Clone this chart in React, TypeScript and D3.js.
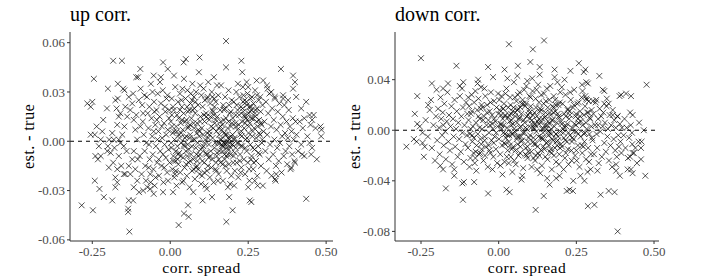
import * as d3 from 'd3';

// [corr. spread, est. - true]
const upOuter: [number, number][] = [
  [-.284,-.039],[-.248,-.042],[-.131,-.055],[-.133,-.036],[-.119,-.036],[-.135,-.041],[-.135,-.043],[-.186,-.036],[-.213,-.034],[-.227,-.029],
  [-.242,-.024],[-.176,-.028],[-.245,.038],[-.183,.049],[-.155,.049],[-.096,.044],[-.109,.039],[-.103,.039],[-.053,.04],[-.023,.048],
  [-.008,.044],[-.03,.039],[.043,.048],[.05,.05],[.094,.051],[.179,.061],[.179,.045],[.228,.049],[.231,.042],[.355,.044],
  [.394,.04],[.40,.036],[.394,.032],[.404,.027],[.436,.024],[.482,.009],[.485,.007],[.466,.008],[.436,-.035],[.027,-.051],
  [.044,-.044],[.059,-.046],[.057,-.039],[.18,-.049],[.2,-.042],[.189,-.034],[.185,-.028],[.255,-.036],[.26,-.037],[.25,-.028],
  [.28,-.027],[.104,-.036],[.134,-.034],[.074,-.031],[.009,-.031],[-.023,-.031],[-.053,-.032],[-.064,-.029],[-.1,-.031],[-.087,-.03],
  [-.149,-.02],[-.144,-.02],[-.17,-.025],[-.176,-.022],[.336,-.023],[.34,-.02],[.388,-.016],[.4,-.013],[.423,-.008],[.447,-.001],
  [.452,-.008],[.484,.003],[.447,.016],[.402,.012],[-.266,.023],[-.25,.024],[-.255,.021],[-.236,.009],[-.255,.004],[-.242,.004],
  [-.223,.001],[-.24,-.009],[-.232,-.011],[-.223,-.009],[-.2,-.003],[-.202,-.006],[-.215,.013],[-.2,.032],[-.168,.035],[-.151,.032],
  [-.147,.031],[-.119,.029],[-.168,.026],[-.176,.025],[-.172,.02],[-.165,.015],[-.17,.01],[-.229,-.003],[-.218,.006],[-.203,.02],
  [.245,.036],[.25,.033],[.277,.037],[.298,.037],[.324,.03],[.335,.027],[.362,.026],[.378,.025],[.31,.034],[.42,.02],[.43,.014],[.455,.013],
];

const upLeftCore: [number, number][] = [
  [-.186,.005],[-.181,.001],[-.191,-.007],[-.183,-.013],[-.165,-.009],[-.16,-.001],[-.154,.004],[-.147,.009],[-.138,.015],[-.128,.019],
  [-.122,.023],[-.117,.013],[-.112,.007],[-.106,.001],[-.117,-.006],[-.122,-.011],[-.133,-.015],[-.14,-.006],[-.149,-.003],[-.157,-.015],
  [-.17,-.017],[-.197,-.016],[-.128,-.02],[-.112,-.017],[-.106,-.024],[-.117,-.028],[-.104,-.011],[-.101,.025],[-.109,.016],[-.133,.027],
  [-.144,.021],[-.16,.017],[-.179,-.004],[-.196,.001],[-.165,.001],
  [-.095,.032],[-.09,.022],[-.088,.012],[-.085,.004],[-.082,-.006],[-.08,-.015],[-.078,-.024],[-.075,.027],[-.072,.017],[-.07,.008],
  [-.068,-.002],[-.066,-.011],[-.064,-.02],[-.062,.035],[-.06,.014],[-.058,.003],[-.056,-.008],[-.054,-.017],[-.052,.024],[-.05,-.027],
  [-.048,.01],[-.046,-.003],[-.044,.019],[-.042,-.013],[-.04,.029],[-.038,.006],[-.036,-.021],[-.034,.015],[-.032,-.006],[-.03,.023],
  [-.028,-.015],[-.026,.002],[-.024,.031],[-.022,-.025],[-.02,.011],[-.018,-.002],[-.016,.018],[-.014,-.01],[-.012,.026],[-.01,-.019],
  [-.008,.007],[-.006,-.005],[-.004,.014],[-.002,-.013],[-.098,-.009],[-.092,-.02],[-.087,.017],[-.083,.028],[-.077,-.001],[-.073,-.028],
  [-.067,.021],[-.063,-.025],[-.057,.03],[-.053,.006],[-.047,-.022],[-.043,.013],[-.037,-.011],[-.033,.036],[-.027,.009],[-.023,-.008],
  [-.017,.021],[-.013,.004],[-.007,-.024],[-.003,.019],[-.096,.009],[-.069,-.016],[-.041,.001],[-.019,-.016],[-.009,.028],[-.051,.018],
];

const upMidCore: [number, number][] = [
  [.002,.012],[.004,-.004],[.005,.026],[.007,-.017],[.008,.005],[.01,-.009],[.011,.019],[.013,-.022],[.014,.001],[.016,.033],
  [.017,-.012],[.019,.009],[.02,-.027],[.022,.016],[.023,-.003],[.025,.024],[.026,-.014],[.028,.004],[.029,-.007],[.031,.029],
  [.032,-.019],[.034,.011],[.035,-.001],[.037,.021],[.038,-.025],[.04,.007],[.041,-.01],[.043,.017],[.044,.038],[.046,-.016],
  [.047,.002],[.049,.026],[.05,-.006],[.052,.013],[.053,-.021],[.055,.031],[.056,-.002],[.058,.009],[.059,-.013],[.061,.019],
  [.062,-.028],[.064,.004],[.065,.023],[.067,-.008],[.068,.014],[.07,-.018],[.071,.035],[.073,.001],[.074,-.011],[.076,.027],
  [.077,.008],[.079,-.023],[.08,.017],[.082,-.004],[.083,.03],[.085,-.015],[.086,.011],[.088,-.001],[.089,.022],[.091,-.009],
  [.092,.042],[.094,-.02],[.095,.006],[.097,.015],[.098,-.005],[.1,.028],
  [.003,-.001],[.009,.021],[.015,-.02],[.021,.006],[.027,.014],[.033,-.009],[.039,.032],[.045,-.003],[.051,-.014],[.057,.018],
  [.063,.01],[.069,-.003],[.075,-.017],[.081,.024],[.087,-.012],[.093,.003],[.099,-.026],[.012,.04],[.024,-.011],[.036,.025],
  [.048,.012],[.06,-.005],[.072,.019],[.084,-.008],[.096,.034],[.018,-.006],[.042,-.024],[.066,.029],[.078,.001],[.09,-.017],
  [.054,.021],[.03,.002],[.006,.009],
  [.101,.008],[.103,-.012],[.104,.021],[.106,-.003],[.107,.032],[.109,-.019],[.11,.012],[.112,.001],[.113,-.027],[.115,.017],
  [.116,-.008],[.118,.026],[.119,.005],[.121,-.015],[.122,.036],[.124,-.002],[.125,.013],[.127,-.022],[.128,.023],[.13,-.006],
  [.131,.009],[.133,.03],[.134,-.011],[.136,.002],[.137,.018],[.139,-.025],[.14,.039],[.142,-.004],[.143,.011],[.145,-.017],
  [.146,.024],[.148,.006],[.149,-.009],[.151,.015],[.152,-.001],[.154,.028],[.155,-.02],[.157,.004],[.158,-.006],[.16,.019],
  [.161,-.013],[.163,.034],[.164,.001],[.166,-.003],[.167,.01],[.169,-.024],[.17,.022],[.172,-.001],[.173,.005],[.175,-.011],
  [.176,.027],[.178,-.002],[.179,.014],[.181,-.018],[.182,0],[.184,.008],[.185,-.005],[.187,.031],[.188,-.014],[.19,-.001],
  [.191,.017],[.193,-.008],[.194,.003],[.196,-.021],[.197,.025],[.199,-.002],
  [.102,-.021],[.108,.016],[.114,-.007],[.12,.027],[.126,.004],[.132,-.016],[.138,.008],[.144,-.001],[.15,.034],[.156,-.011],
  [.162,.012],[.168,-.006],[.174,.02],[.18,-.009],[.186,.002],[.192,-.026],[.198,.011],[.105,.004],[.117,-.029],[.129,.015],
  [.141,.026],[.153,-.024],[.165,.007],[.177,-.015],[.189,.022],[.111,.025],[.123,-.01],[.135,.019],[.147,-.013],[.159,-.001],
  [.171,.013],[.183,-.004],[.195,.009],[.17,-.003],[.18,-.001],[.19,.001],[.2,-.002],[.16,.001],[.176,.004],
];

const upRightCore: [number, number][] = [
  [.201,.014],[.203,-.009],[.204,.024],[.206,.002],[.207,-.018],[.209,.011],[.21,-.004],[.212,.03],[.213,-.013],[.215,.007],
  [.216,.019],[.218,-.022],[.219,-.001],[.221,.016],[.222,.027],[.224,-.008],[.225,.004],[.227,.021],[.228,-.016],[.23,.012],
  [.231,-.003],[.233,.033],[.234,.018],[.236,-.011],[.237,.008],[.239,.025],[.24,-.02],[.242,.001],[.243,.014],[.245,-.006],
  [.246,.022],[.248,.029],[.249,-.013],[.251,.005],[.252,.017],[.254,-.024],[.255,.011],[.257,-.002],[.258,.026],[.26,.019],
  [.261,-.009],[.263,.003],[.264,.014],[.266,-.017],[.267,.023],[.269,.008],[.27,-.005],[.272,.031],[.273,.015],[.275,-.012],
  [.276,.002],[.278,.02],[.279,-.021],[.281,.009],[.282,-.003],[.284,.025],[.285,.013],[.287,-.008],[.288,.004],[.29,.018],
  [.291,-.015],[.293,.01],[.294,-.001],[.296,.022],[.297,-.027],[.299,.006],
  [.205,-.027],[.211,.009],[.217,.035],[.223,-.012],[.229,.003],[.235,.028],[.241,-.004],[.247,.013],[.253,-.017],[.259,.021],
  [.265,.006],[.271,-.024],[.277,.012],[.283,-.007],[.289,.027],[.295,.001],[.232,.02],[.238,.016],[.244,.024],[.256,.018],
  [.262,.027],[.226,-.019],[.268,-.013],[.274,.019],
  [.302,.012],[.305,-.006],[.307,.024],[.309,-.018],[.311,.004],[.314,.017],[.316,-.011],[.318,.029],[.32,-.002],[.323,.009],
  [.325,-.021],[.327,.02],[.33,-.008],[.332,.013],[.334,.001],[.336,.026],[.339,-.015],[.341,.007],[.343,-.004],[.345,.018],
  [.348,-.012],[.35,.023],[.352,-.001],[.354,.01],[.357,-.019],[.359,.003],[.361,.015],[.364,-.009],[.366,.022],[.368,.005],
  [.37,-.006],[.373,.012],[.375,-.014],[.377,.002],[.38,.019],[.382,-.003],[.384,.009],[.386,-.017],[.389,.006],[.391,-.008],
  [.393,.014],[.396,.001],[.398,-.012],[.312,.032],[.338,-.024],[.362,.028],
  [.405,.004],[.41,-.006],[.415,.012],[.42,-.002],[.425,.008],[.43,-.009],[.44,.003],[.45,.01],[.455,-.004],[.46,.016],[.47,-.011],
];

const upDense: [number, number][] = [
  [.012,.006],[.025,-.008],[.038,.013],[.051,.003],[.064,-.012],[.077,.02],[.09,.007],[.103,-.004],[.116,.015],[.129,-.009],
  [.142,.021],[.155,.008],[.168,-.014],[.181,.004],[.194,.018],[.207,-.007],[.22,.01],[.233,.024],[.246,.002],[.259,-.011],
  [.272,.017],[.285,.005],[.018,-.018],[.031,.019],[.044,-.002],[.057,.008],[.07,.025],[.083,-.016],[.096,.012],[.109,-.013],
  [.122,.002],[.135,.027],[.148,-.018],[.161,.009],[.174,-.008],[.187,.012],[.2,.004],[.213,.022],[.226,-.003],[.239,.015],
  [.252,.009],[.265,-.004],[.278,.028],[.291,.011],[.005,.016],[.062,.002],[.118,-.018],[.146,.013],[.173,.019],[.202,-.013],
  [.228,.006],[.254,.021],[.11,-.001],[.085,.005],[.15,-.007],[.165,-.002],[.185,-.008],[.205,.001],[.215,-.001],[.125,.006],
  [.095,-.008],[.055,-.009],[.035,.005],[.24,.011],[.26,.014],[.01,-.012],[.075,.011],[.14,.016],[.195,-.004],[.21,.016],
];

const downOuter: [number, number][] = [
  [-.297,-.013],[-.25,.057],[-.262,.027],[-.262,.005],[-.254,.003],[-.27,.013],[-.273,-.007],[-.264,-.009],[-.245,-.01],[-.238,-.013],
  [-.241,-.021],[-.215,.037],[-.227,.02],[-.2,.032],[-.179,.033],[-.136,.051],[-.125,.035],[-.114,.038],[-.066,.04],[-.034,.05],
  [-.018,.042],[.033,.068],[.019,.048],[.062,.051],[.11,.064],[.146,.071],[.132,.05],[.102,.054],[.18,.048],[.231,.047],
  [.258,.053],[.279,.048],[.274,.046],[.324,.043],[.476,.036],[.41,.029],[.426,.027],[.423,.014],[.431,.012],[.467,0],
  [.429,-.002],[.45,-.009],[.458,-.014],[.44,-.014],[.458,-.023],[.431,-.018],[.423,-.021],[.472,-.036],[.415,-.031],[.431,-.034],
  [.426,-.031],[.39,-.036],[.378,-.032],[.354,-.048],[.373,-.049],[.328,-.051],[.308,-.059],[.287,-.06],[.383,-.08],[.276,-.04],
  [.228,-.047],[.239,-.048],[.219,-.048],[.145,-.052],[.119,-.063],[.035,-.049],[.025,-.047],[-.034,-.05],[-.115,-.055],[-.117,-.042],
  [-.112,-.041],[-.17,-.046],[-.179,-.031],[-.143,-.036],[-.079,-.041],[.164,-.043],[.185,-.038],[.073,-.039],[.282,.025],[.303,.023],
  [.314,.024],[.34,.031],[.335,.032],[.34,.021],[.354,.021],[.282,.038],[.287,.037],[.367,.012],[.383,.011],[.394,.028],[.389,.027],
  [-.235,.008],[-.228,-.005],[-.222,.016],[-.215,-.014],[-.21,.004],[-.205,-.024],[-.202,.011],[-.245,-.002],[-.218,.024],
];

const downLeftCore: [number, number][] = [
  [-.198,-.008],[-.195,.017],[-.192,.002],[-.19,-.019],[-.187,.026],[-.185,.009],[-.182,-.004],[-.18,.014],[-.177,-.012],[-.175,.021],
  [-.172,-.001],[-.17,-.023],[-.167,.007],[-.165,.03],[-.162,-.009],[-.16,.012],[-.157,-.016],[-.155,.003],[-.152,.019],[-.15,-.027],
  [-.147,.009],[-.145,-.005],[-.142,.024],[-.14,-.013],[-.137,.001],[-.135,.015],[-.132,-.021],[-.13,.006],[-.127,-.007],[-.125,.027],
  [-.122,-.017],[-.12,.011],[-.117,-.002],[-.115,.018],[-.112,-.025],[-.11,.004],[-.107,-.011],[-.105,.022],[-.102,-.004],[-.101,.013],
  [-.188,-.028],[-.163,.037],[-.143,-.031],[-.118,.033],[-.178,.004],
  [-.099,-.014],[-.097,.008],[-.095,.019],[-.093,-.003],[-.091,-.022],[-.089,.013],[-.087,.028],[-.085,-.009],[-.083,.003],[-.081,-.018],
  [-.079,.022],[-.077,-.026],[-.075,.031],[-.073,.006],[-.071,-.012],[-.069,.016],[-.067,-.003],[-.065,.025],[-.063,-.019],[-.061,.009],
  [-.059,-.007],[-.057,.034],[-.055,-.015],[-.053,.001],[-.051,.018],[-.049,-.024],[-.047,.011],[-.045,-.005],[-.043,.027],[-.041,-.013],
  [-.039,.004],[-.037,.02],[-.035,-.029],[-.033,.008],[-.031,-.002],[-.029,.015],[-.027,-.018],[-.025,.03],[-.023,-.008],[-.021,.012],
  [-.019,.001],[-.017,-.021],[-.015,.023],[-.013,-.005],[-.011,.007],[-.009,-.015],[-.007,.018],[-.005,-.026],[-.003,.003],[-.001,.013],
  [-.098,.026],[-.094,-.029],[-.09,.001],[-.086,.015],[-.08,-.006],[-.074,-.017],[-.068,.037],[-.062,.002],[-.056,-.011],[-.05,.008],
  [-.044,-.02],[-.038,.014],[-.032,-.012],[-.026,.022],[-.02,-.031],[-.014,.009],[-.008,-.002],[-.002,.029],[-.072,-.032],[-.046,.033],
  [-.016,-.01],[-.058,.017],[-.028,.004],
];

const downMidCore: [number, number][] = [
  [.001,-.007],[.003,.016],[.005,-.019],[.007,.005],[.009,.027],[.011,-.012],[.013,.009],[.015,-.002],[.017,.021],[.019,-.025],
  [.021,.012],[.023,-.006],[.025,.033],[.027,.002],[.029,-.016],[.031,.018],[.033,-.009],[.035,.007],[.037,.026],[.039,-.021],
  [.041,.004],[.043,-.003],[.045,.015],[.047,-.013],[.049,.038],[.051,-.001],[.053,.011],[.055,-.027],[.057,.023],[.059,.006],
  [.061,-.011],[.063,.017],[.065,-.005],[.067,.03],[.069,-.018],[.071,.003],[.073,.013],[.075,-.008],[.077,.024],[.079,-.03],
  [.081,.008],[.083,-.002],[.085,.019],[.087,-.014],[.089,.035],[.091,.001],[.093,-.022],[.095,.012],[.097,-.006],[.099,.027],
  [.002,.024],[.006,-.028],[.01,.001],[.014,.017],[.018,-.01],[.022,.029],[.026,-.021],[.03,.01],[.034,-.004],[.038,.02],
  [.042,-.015],[.046,.005],[.05,-.024],[.054,.014],[.058,-.007],[.062,.028],[.066,.009],[.07,-.013],[.074,.021],[.078,-.002],
  [.082,.032],[.086,-.019],[.09,.011],[.094,-.009],[.098,.016],[.012,-.035],[.028,.041],[.044,-.033],[.06,.043],[.076,-.036],
  [.092,.039],[.008,.012],[.036,-.012],[.052,.026],[.068,.002],[.084,.006],[.096,-.017],[.016,.004],[.04,.013],[.064,-.02],
  [.088,.021],[.032,-.026],[.048,.018],[.072,-.005],[.02,-.003],
  [.101,-.004],[.103,.019],[.105,-.017],[.107,.008],[.109,.031],[.111,-.009],[.113,.002],[.115,.014],[.117,-.024],[.119,.025],
  [.121,-.001],[.123,.011],[.125,-.013],[.127,.036],[.129,.005],[.131,-.02],[.133,.017],[.135,-.006],[.137,.028],[.139,-.028],
  [.141,.009],[.143,-.002],[.145,.021],[.147,-.015],[.149,.004],[.151,.014],[.153,-.01],[.155,.033],[.157,-.023],[.159,.007],
  [.161,-.004],[.163,.024],[.165,-.017],[.167,.012],[.169,.001],[.171,-.031],[.173,.019],[.175,-.008],[.177,.027],[.179,.003],
  [.181,-.014],[.183,.015],[.185,-.025],[.187,.006],[.189,.038],[.191,-.005],[.193,.011],[.195,-.019],[.197,.022],[.199,-.001],
  [.102,.026],[.106,-.029],[.11,.012],[.114,-.011],[.118,.004],[.122,.032],[.126,-.018],[.13,.009],[.134,-.034],[.138,.016],
  [.142,-.007],[.146,.029],[.15,-.021],[.154,.001],[.158,.018],[.162,-.012],[.166,.035],[.17,-.003],[.174,.008],[.178,-.02],
  [.182,.024],[.186,-.009],[.19,.013],[.194,-.027],[.198,.03],[.104,.002],[.112,-.022],[.12,.018],[.128,-.005],[.136,.006],
  [.144,-.013],[.152,.023],[.16,-.001],[.168,-.015],[.176,.014],[.184,-.003],[.192,.02],[.2,-.011],[.108,.041],[.132,.044],
  [.156,-.038],[.18,.042],[.196,-.036],[.116,.005],[.14,.001],[.164,.005],[.188,-.012],[.124,-.031],[.148,.01],[.172,-.007],
];

const downRightCore: [number, number][] = [
  [.201,.007],[.204,-.013],[.206,.021],[.208,-.002],[.211,.013],[.213,-.022],[.215,.028],[.218,.003],[.22,-.009],[.222,.016],
  [.225,-.027],[.227,.009],[.229,-.004],[.232,.024],[.234,-.016],[.236,.002],[.239,.018],[.241,-.007],[.243,.032],[.246,-.02],
  [.248,.011],[.25,-.001],[.253,.021],[.255,-.012],[.257,.006],[.26,-.029],[.262,.015],[.264,-.005],[.267,.026],[.269,-.018],
  [.271,.004],[.274,.012],[.276,-.009],[.278,.019],[.281,-.023],[.283,.001],[.285,.014],[.288,-.014],[.29,.023],[.292,-.003],
  [.295,.009],[.297,-.019],[.299,.016],
  [.203,.034],[.209,-.031],[.216,.011],[.223,-.015],[.23,.03],[.237,-.006],[.244,.005],[.251,-.024],[.258,.022],[.265,.007],
  [.272,-.013],[.279,.027],[.286,-.033],[.293,.01],[.207,.001],[.214,-.008],[.221,.005],[.228,.015],[.235,-.024],[.242,.02],
  [.249,.013],[.256,-.003],[.263,-.036],[.27,.031],[.277,-.002],[.284,.024],[.291,-.025],[.298,.003],[.212,.04],[.24,-.04],
  [.268,.036],[.296,-.031],
  [.302,-.008],[.305,.013],[.307,-.019],[.31,.004],[.312,.022],[.315,-.003],[.317,-.014],[.32,.009],[.322,-.026],[.325,.017],
  [.327,-.001],[.33,.011],[.332,-.021],[.335,.003],[.337,.014],[.34,-.01],[.342,.006],[.345,-.017],[.347,.019],[.35,-.005],
  [.352,.001],[.355,-.024],[.357,.012],[.36,-.012],[.362,.004],[.365,-.029],[.367,.016],[.37,-.007],[.372,.008],[.375,-.016],
  [.377,.002],[.38,-.021],[.382,.011],[.385,-.004],[.387,-.013],[.39,.005],[.392,-.009],[.395,-.018],[.397,.002],[.318,-.032],
  [.348,.025],[.378,-.027],
  [.402,-.004],[.405,.009],[.408,-.014],[.412,.002],[.416,-.022],[.42,-.006],[.425,.004],[.43,-.011],[.435,-.018],[.445,-.026],
  [.452,.006],[.46,-.009],
];

const downDense: [number, number][] = [
  [.008,.004],[.021,-.011],[.034,.012],[.047,-.003],[.06,.016],[.073,-.009],[.086,.002],[.099,.014],[.112,-.006],[.125,.007],
  [.138,-.016],[.151,.011],[.164,-.002],[.177,.018],[.19,-.008],[.203,.005],[.216,-.018],[.229,.012],[.242,-.001],[.255,.009],
  [.268,-.012],[.281,.006],[.015,.017],[.028,-.004],[.041,.008],[.054,-.016],[.067,.01],[.08,.021],[.093,-.013],[.106,.005],
  [.119,-.011],[.132,.015],[.145,.001],[.158,-.009],[.171,.008],[.184,.02],[.197,-.014],[.21,.003],[.223,.017],[.236,-.009],
  [.249,.004],[.262,.011],[.275,-.003],[.288,.014],[-.02,.005],[-.045,-.008],[-.065,.011],[-.085,-.004],[.05,.001],[.09,-.02],
  [.13,.022],[.17,-.018],[.21,-.006],[.25,-.016],[.115,.001],[.155,.004],[.185,-.003],[.14,-.006],[.1,.009],[.06,-.005],
  [-.03,-.016],[-.055,.02],[.02,.011],[.165,.014],[.195,.01],[.225,-.002],[.12,-.02],[.07,.018],[.3,-.006],[.32,.004],
  [-.075,-.022],[-.06,-.018],
];

const upCorr = [...upOuter, ...upLeftCore, ...upMidCore, ...upRightCore, ...upDense];
const downCorr = [...downOuter, ...downLeftCore, ...downMidCore, ...downRightCore, ...downDense];

const spreadTicks = [-0.25, 0, 0.25, 0.5];
const upTicks = [-0.06, -0.03, 0, 0.03, 0.06];
const downTicks = [-0.08, -0.04, 0, 0.04];

const FONT = '"Liberation Serif", "Times New Roman", serif';
const TOP = 32;
const BOTTOM = 241;

interface PanelProps {
  title: string;
  data: [number, number][];
  left: number;
  right: number;
  xDomain: [number, number];
  yDomain: [number, number];
  yTicks: number[];
  yLabelX: number;
}

const Panel = ({ title, data, left, right, xDomain, yDomain, yTicks, yLabelX }: PanelProps) => {
  const x = d3.scaleLinear().domain(xDomain).range([left, right]);
  const y = d3.scaleLinear().domain(yDomain).range([BOTTOM, TOP]);
  const fmt = (v: number) => v.toFixed(2);
  const s = 2.9;
  return (
    <g>
      <text x={left} y={21} fontSize={20} fontFamily={FONT} fill="#000">{title}</text>
      {data.map((d, i) => (
        <path key={i}
          d={`M${x(d[0]) - s},${y(d[1]) - s}L${x(d[0]) + s},${y(d[1]) + s}M${x(d[0]) - s},${y(d[1]) + s}L${x(d[0]) + s},${y(d[1]) - s}`}
          stroke="#000" strokeWidth={0.85} strokeOpacity={0.8} fill="none" />
      ))}
      <line x1={left} x2={right} y1={y(0)} y2={y(0)} stroke="#000" strokeWidth={1} strokeDasharray="4,4" />
      <line x1={left} x2={left} y1={TOP} y2={BOTTOM} stroke="#333" strokeWidth={1} />
      <line x1={left} x2={right} y1={BOTTOM} y2={BOTTOM} stroke="#333" strokeWidth={1} />
      {yTicks.map(t => (
        <g key={t}>
          <line x1={left - 3} x2={left} y1={y(t)} y2={y(t)} stroke="#333" />
          <text x={left - 5} y={y(t)} dy="0.35em" textAnchor="end" fontSize={13} fontFamily={FONT} fill="#4d4d4d">{fmt(t)}</text>
        </g>
      ))}
      {spreadTicks.map(t => (
        <g key={t}>
          <line x1={x(t)} x2={x(t)} y1={BOTTOM} y2={BOTTOM + 3} stroke="#333" />
          <text x={x(t)} y={255.5} textAnchor="middle" fontSize={13} fontFamily={FONT} fill="#4d4d4d">{fmt(t)}</text>
        </g>
      ))}
      <text x={(left + right) / 2} y={273} textAnchor="middle" fontSize={15.5} letterSpacing={0.5} fontFamily={FONT} fill="#000">corr. spread</text>
      <text transform={`translate(${yLabelX},${(TOP + BOTTOM) / 2}) rotate(-90)`} textAnchor="middle" fontSize={16.5} letterSpacing={0.3} fontFamily={FONT} fill="#000">est. - true</text>
    </g>
  );
};

export default function App() {
  return (
    <svg width={703} height={280} style={{ position: 'absolute', left: 0, top: 0, background: '#fff' }}>
      <Panel title="up corr." data={upCorr} left={70} right={333}
        xDomain={[-0.3215, 0.522]} yDomain={[-0.0607, 0.0665]} yTicks={upTicks} yLabelX={33.5} />
      <Panel title="down corr." data={downCorr} left={395} right={659}
        xDomain={[-0.3337, 0.516]} yDomain={[-0.0876, 0.0777]} yTicks={downTicks} yLabelX={359.5} />
    </svg>
  );
}
